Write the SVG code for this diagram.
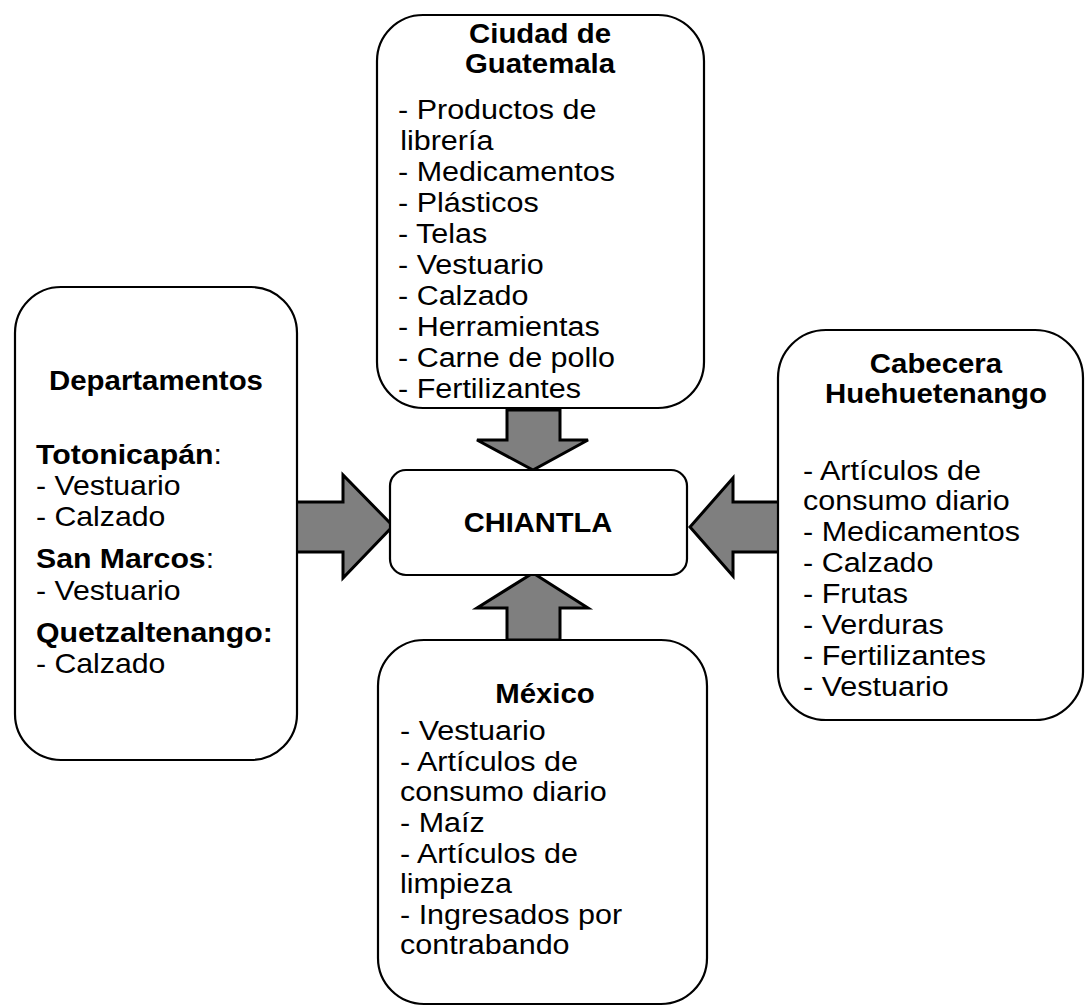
<svg xmlns="http://www.w3.org/2000/svg" width="1085" height="1008" viewBox="0 0 1085 1008">
<style>
.box{fill:#fff;stroke:#000;stroke-width:2.2}
.t{font-family:"Liberation Sans",Arial,sans-serif;font-size:28px;fill:#000}
.b{font-weight:bold}
.c{text-anchor:middle}
.arrow{fill:#7f7f7f;stroke:#000;stroke-width:3;stroke-linejoin:miter}
</style>
<rect width="1085" height="1008" fill="#fff"/>
<g id="connectors">
<polygon class="arrow" points="295,502 343,502 343,475 393,526 343,578 343,552 295,552"/>
<polygon class="arrow" points="780,502 733,502 733,478 690,527 733,576 733,552 780,552"/>
<polygon class="arrow" points="507,410 560,410 560,440 588,440 533,470 477,440 507,440"/>
<polygon class="arrow" points="507,640 560,640 560,608 588,608 533,573 477,608 507,608"/>
</g>
<g id="ciudad">
<rect class="box" x="377" y="15" width="327" height="393" rx="46"/>
<g transform="translate(540 0) scale(1.05 1)">
<text class="t b c" x="0" y="43">Ciudad de</text>
<text class="t b c" x="0" y="73">Guatemala</text>
</g>
<g transform="translate(398 0) scale(1.09 1)">
<text class="t" x="0" y="119">- Productos de</text>
<text class="t" x="2" y="150">librería</text>
<text class="t" x="0" y="181">- Medicamentos</text>
<text class="t" x="0" y="212">- Plásticos</text>
<text class="t" x="0" y="243">- Telas</text>
<text class="t" x="0" y="274">- Vestuario</text>
<text class="t" x="0" y="305">- Calzado</text>
<text class="t" x="0" y="336">- Herramientas</text>
<text class="t" x="0" y="367">- Carne de pollo</text>
<text class="t" x="0" y="398">- Fertilizantes</text>
</g>
</g>
<g id="departamentos">
<rect class="box" x="15" y="287" width="282" height="473" rx="46"/>
<g transform="translate(156 0) scale(1.05 1)">
<text class="t b c" x="0" y="390">Departamentos</text>
</g>
<g transform="translate(36 0) scale(1.08 1)">
<text class="t" x="0" y="464"><tspan class="b">Totonicapán</tspan>:</text>
<text class="t" x="0" y="495">- Vestuario</text>
<text class="t" x="0" y="526">- Calzado</text>
<text class="t" x="0" y="568"><tspan class="b">San Marcos</tspan>:</text>
<text class="t" x="0" y="600">- Vestuario</text>
<text class="t b" x="0" y="642">Quetzaltenango:</text>
<text class="t" x="0" y="673">- Calzado</text>
</g>
</g>
<g id="chiantla">
<rect class="box" x="390" y="470" width="297" height="105" rx="16"/>
<g transform="translate(538 0) scale(1.04 1)">
<text class="t b c" x="0" y="532">CHIANTLA</text>
</g>
</g>
<g id="cabecera">
<rect class="box" x="778" y="330" width="305" height="390" rx="48"/>
<g transform="translate(936 0) scale(1.05 1)">
<text class="t b c" x="0" y="373">Cabecera</text>
<text class="t b c" x="0" y="403">Huehuetenango</text>
</g>
<g transform="translate(803 0) scale(1.09 1)">
<text class="t" x="0" y="480">- Artículos de</text>
<text class="t" x="0" y="510">consumo diario</text>
<text class="t" x="0" y="541">- Medicamentos</text>
<text class="t" x="0" y="572">- Calzado</text>
<text class="t" x="0" y="603">- Frutas</text>
<text class="t" x="0" y="634">- Verduras</text>
<text class="t" x="0" y="665">- Fertilizantes</text>
<text class="t" x="0" y="696">- Vestuario</text>
</g>
</g>
<g id="mexico">
<rect class="box" x="378" y="640" width="329" height="364" rx="46"/>
<g transform="translate(545 0) scale(1.05 1)">
<text class="t b c" x="0" y="703">México</text>
</g>
<g transform="translate(400 0) scale(1.09 1)">
<text class="t" x="0" y="740">- Vestuario</text>
<text class="t" x="0" y="771">- Artículos de</text>
<text class="t" x="0" y="801">consumo diario</text>
<text class="t" x="0" y="832">- Maíz</text>
<text class="t" x="0" y="863">- Artículos de</text>
<text class="t" x="0" y="893">limpieza</text>
<text class="t" x="0" y="924">- Ingresados por</text>
<text class="t" x="0" y="954">contrabando</text>
</g>
</g>
</svg>
